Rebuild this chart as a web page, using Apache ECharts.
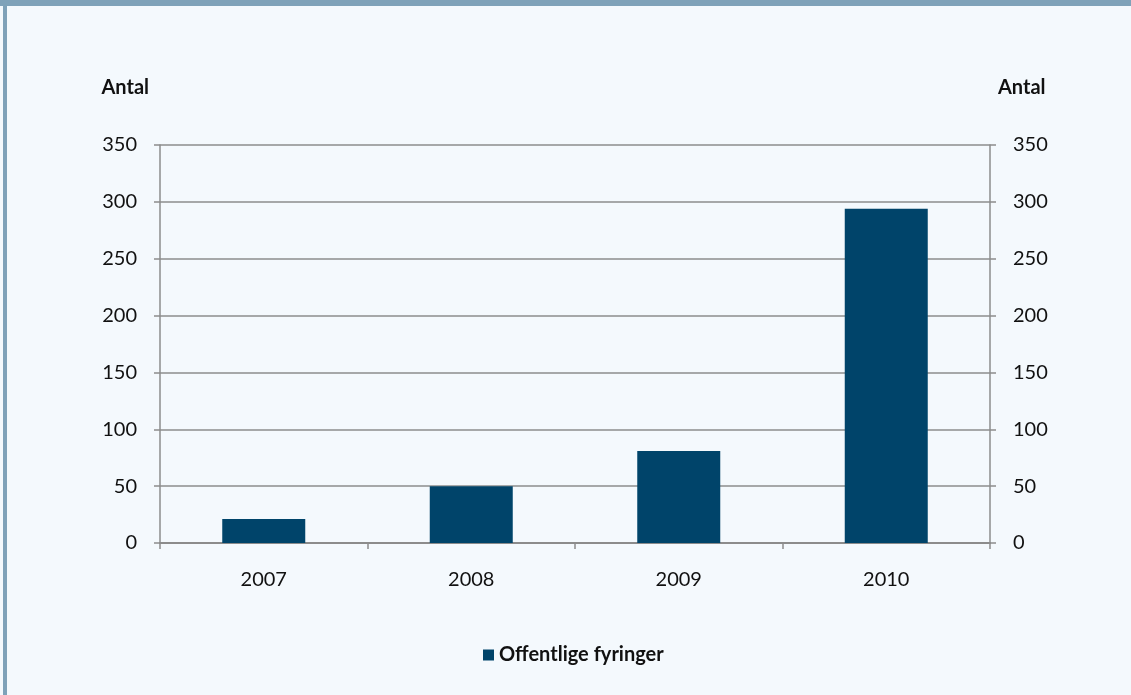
<!DOCTYPE html>
<html>
<head>
<meta charset="utf-8">
<script src="https://cdn.jsdelivr.net/npm/echarts@6/dist/echarts.min.js"></script>
<style>
	html, body { margin: 0; padding: 0; background: #f4f9fd; }
	#chart { width: 1131px; height: 695px; }
</style>
</head>
<body>
<div id="chart"></div>
<script>
// data
const years = ["2007", "2008", "2009", "2010"];
const fyringer = [21, 50, 81, 294];
const seriesName = "Offentlige fyringer";
const axisName = "Antal";

const textColor = "#111111";
const lineColor = "#8c8c8c";
const barColor = "#00446a";
const frameColor = "#7fa2b9";
const fontSize = 20;

const chart = echarts.init(document.getElementById("chart"), null, { renderer: "canvas" });

// shared y axis settings (left and right are the same scale)
function yAxis(position) {
	const left = position === "left";
	return {
		type: "value",
		position: position,
		min: 0,
		max: 350,
		interval: 50,
		name: axisName,
		nameLocation: "end",
		nameGap: 47,
		nameTextStyle: {
			fontFamily: "Lato",
			fontSize: fontSize,
			fontWeight: "bold",
			color: textColor,
			align: left ? "right" : "left",
			padding: left ? [0, 11, 0, 0] : [0, 0, 0, 8],
		},
		axisLine: { show: true, lineStyle: { color: lineColor, width: 1.5 } },
		axisTick: { show: true, length: 6, lineStyle: { color: lineColor, width: 1.5 } },
		axisLabel: {
			margin: 23,
			fontFamily: "Lato",
			fontSize: fontSize,
			color: textColor,
		},
		splitLine: { show: left, lineStyle: { color: lineColor, width: 1.5 } },
	};
}

const option = {
	backgroundColor: "#f4f9fd",
	animation: false,
	graphic: [
		// frame band at the top and left edge
		{ type: "rect", left: 0, top: 0, shape: { width: 1131, height: 6 }, style: { fill: frameColor } },
		{ type: "rect", left: 3, top: 0, shape: { width: 4, height: 695 }, style: { fill: frameColor } },
	],
	grid: {
		left: 160,
		right: 141,
		top: 145,
		bottom: 152,
		containLabel: false,
	},
	legend: {
		left: 483,
		top: 645,
		padding: 0,
		itemWidth: 11,
		itemHeight: 11,
		icon: "rect",
		textStyle: {
			fontFamily: "Lato",
			fontSize: fontSize,
			fontWeight: "bold",
			color: textColor,
			padding: [0, 0, 0, 0],
		},
		data: [seriesName],
	},
	xAxis: {
		type: "category",
		data: years,
		axisLine: { lineStyle: { color: lineColor, width: 2 } },
		axisTick: { show: true, length: 6, alignWithLabel: false, lineStyle: { color: lineColor, width: 1.5 } },
		axisLabel: {
			margin: 27,
			fontFamily: "Lato",
			fontSize: fontSize,
			color: textColor,
		},
	},
	yAxis: [yAxis("left"), yAxis("right")],
	series: [
		{
			name: seriesName,
			type: "bar",
			data: fyringer,
			barWidth: "40%",
			itemStyle: { color: barColor },
		},
	],
};

chart.setOption(option);
</script>
</body>
</html>
